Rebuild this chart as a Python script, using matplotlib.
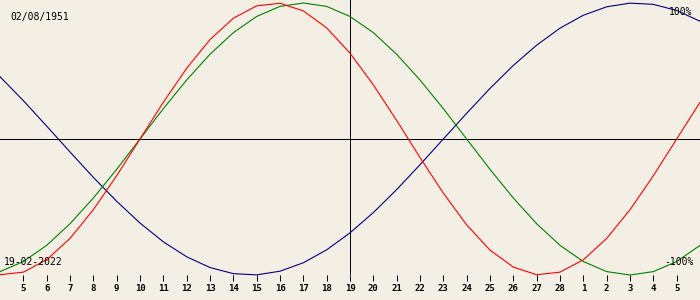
import matplotlib
matplotlib.use("Agg")
import matplotlib.pyplot as plt

# Biorhythm for 02/08/1951, centred on 19-02-2022 (one point per day, -15..+15)
day_offsets = list(range(-15, 16))
day_labels = ["4", "5", "6", "7", "8", "9", "10", "11", "12", "13", "14", "15", "16", "17", "18",
              "19", "20", "21", "22", "23", "24", "25", "26", "27", "28",
              "1", "2", "3", "4", "5", "6"]

physical = [-0.998, -0.979, -0.888, -0.731, -0.520, -0.270, 0.000, 0.270, 0.520, 0.731,
            0.888, 0.979, 0.998, 0.942, 0.817, 0.631, 0.398, 0.136, -0.136, -0.398,
            -0.631, -0.817, -0.942, -0.998, -0.979, -0.888, -0.731, -0.520, -0.270, 0.000,
            0.270]
emotional = [-0.975, -0.901, -0.782, -0.623, -0.434, -0.223, 0.000, 0.223, 0.434, 0.623,
             0.782, 0.901, 0.975, 1.000, 0.975, 0.901, 0.782, 0.623, 0.434, 0.223,
             0.000, -0.223, -0.434, -0.623, -0.782, -0.901, -0.975, -1.000, -0.975, -0.901,
             -0.782]
intellectual = [0.458, 0.282, 0.095, -0.095, -0.282, -0.458, -0.618, -0.756, -0.866, -0.945,
                -0.990, -0.999, -0.972, -0.910, -0.815, -0.690, -0.541, -0.372, -0.189, 0.000,
                0.189, 0.372, 0.541, 0.690, 0.815, 0.910, 0.972, 0.999, 0.990, 0.945,
                0.866]

birth_text = "02/08/1951"
date_text = "19-02-2022"

bg = "#f3efe4"
W, H = 700, 300
px = 0.72  # one pixel in points at 100 dpi

fig = plt.figure(figsize=(W / 100, H / 100), dpi=100, facecolor=bg)
# axes from pixel row 0 to 275; y = +1 at row 3, -1 at row 275
ax = fig.add_axes([0, 25 / H, 1, 275 / H])
ax.set_facecolor(bg)
ax.set_xlim(-15, 15)
ax.set_ylim(-1.0, 139 / 136)
for s in ax.spines.values():
    s.set_visible(False)
ax.set_yticks([])

ax.axhline(0, color="black", lw=px, antialiased=False)
ax.axvline(0, color="black", lw=px, antialiased=False)

curve = dict(lw=0.8, clip_on=False)
ax.plot(day_offsets, intellectual, color="#000080", **curve)
ax.plot(day_offsets, emotional, color="#008000", **curve)
ax.plot(day_offsets, physical, color="#ff0000", **curve)

ax.set_xticks(day_offsets[1:-1])
ax.set_xticklabels(day_labels[1:-1], family="DejaVu Sans Mono", fontsize=6.5, fontweight="bold")
ax.tick_params(axis="x", direction="out", length=4.3, width=px, pad=2.5, colors="black")

mono = dict(family="DejaVu Sans Mono", fontsize=7, color="black")
fig.text(10 / W, 1 - 17 / H, birth_text, ha="left", va="center", **mono)
fig.text(4 / W, 1 - 262 / H, date_text, ha="left", va="center", **mono)
fig.text(692 / W, 1 - 12 / H, "100%", ha="right", va="center", **mono)
fig.text(694 / W, 1 - 262 / H, "-100%", ha="right", va="center", **mono)

fig.savefig("out.png", dpi=100, facecolor=bg)
